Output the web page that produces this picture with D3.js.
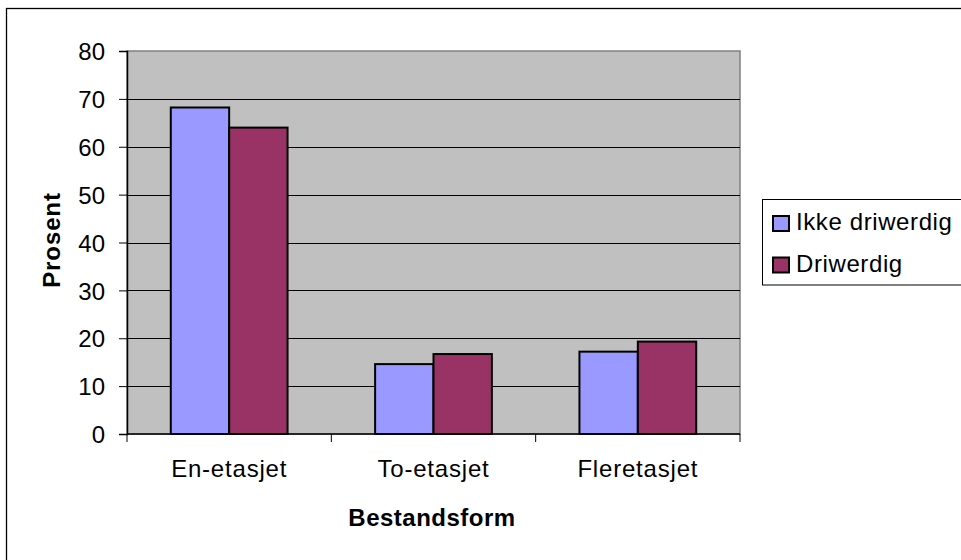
<!DOCTYPE html>
<html>
<head>
<meta charset="utf-8">
<script src="https://cdn.jsdelivr.net/npm/d3@7"></script>
<style>
  html, body { margin: 0; padding: 0; background: #fff; }
  svg { display: block; }
  text { font-family: "Liberation Sans", Arial, sans-serif; fill: #000; }
</style>
</head>
<body>
<svg id="chart" width="961" height="560"></svg>
<script>
// Share of buildings per building type (percent)
const categories = ["En-etasjet", "To-etasjet", "Fleretasjet"];
const seriesNames = ["Ikke driwerdig", "Driwerdig"];
const ikkeDriwerdig = [68.2, 14.6, 17.2];
const driwerdig = [64.0, 16.7, 19.3];
const yTicks = [0, 10, 20, 30, 40, 50, 60, 70, 80];
const seriesColors = ["#9999FF", "#993366"];
const xTitle = "Bestandsform";
const yTitle = "Prosent";

const values = [ikkeDriwerdig, driwerdig];

const svg = d3.select("#chart");
const plot = { left: 127, right: 740, top: 51, bottom: 434 };

// outer chart frame (extends past the right and bottom edges)
svg.append("rect")
  .attr("x", 6.5).attr("y", 8.5)
  .attr("width", 1000).attr("height", 600)
  .attr("fill", "#fff").attr("stroke", "#000").attr("stroke-width", 1.3);

const y = d3.scaleLinear().domain([0, 80]).range([plot.bottom, plot.top]);
const x0 = d3.scaleBand().domain(categories).range([plot.left, plot.right]).paddingInner(0).paddingOuter(0);
const bw = x0.bandwidth();
const gap = bw * 0.75 / 3.5;
const x1 = d3.scaleBand().domain(seriesNames).range([gap, bw - gap]).padding(0);

// plot area background
svg.append("rect")
  .attr("x", plot.left).attr("y", plot.top)
  .attr("width", plot.right - plot.left).attr("height", plot.bottom - plot.top)
  .attr("fill", "#C0C0C0").attr("stroke", "#808080").attr("stroke-width", 1.5);

// horizontal gridlines
svg.append("g").selectAll("line")
  .data(yTicks.filter(d => d > 0 && d < 80))
  .join("line")
  .attr("x1", plot.left).attr("x2", plot.right)
  .attr("y1", d => Math.round(y(d)) + 0.5).attr("y2", d => Math.round(y(d)) + 0.5)
  .attr("stroke", "#000").attr("stroke-width", 1);

// bars
const groups = svg.append("g").selectAll("g")
  .data(categories)
  .join("g")
  .attr("transform", d => `translate(${x0(d)},0)`);

groups.selectAll("rect")
  .data((d, i) => seriesNames.map((s, j) => ({ s, j, v: values[j][i] })))
  .join("rect")
  .attr("x", d => x1(d.s))
  .attr("y", d => y(d.v))
  .attr("width", x1.bandwidth())
  .attr("height", d => y(0) - y(d.v))
  .attr("fill", d => seriesColors[d.j])
  .attr("stroke", "#000").attr("stroke-width", 2);

// y axis
const yAxis = d3.axisLeft(y).tickValues(yTicks).tickSize(8).tickPadding(14).tickFormat(d3.format("d"));
const gy = svg.append("g").attr("transform", `translate(${plot.left},0)`).call(yAxis);
gy.select(".domain").attr("stroke", "#000").attr("stroke-width", 1.5);
gy.selectAll(".tick line").attr("stroke", "#000");
gy.selectAll(".tick text")
  .attr("font-size", 24).attr("font-family", "Liberation Sans, Arial, sans-serif")
  .attr("dy", "0.36em").attr("fill", "#000");

// x axis with ticks at category boundaries
svg.append("line")
  .attr("x1", plot.left).attr("x2", plot.right)
  .attr("y1", plot.bottom).attr("y2", plot.bottom)
  .attr("stroke", "#000").attr("stroke-width", 1.5);
const boundaries = categories.map(c => x0(c)).concat([plot.right]);
svg.append("g").selectAll("line")
  .data(boundaries)
  .join("line")
  .attr("x1", d => d).attr("x2", d => d)
  .attr("y1", plot.bottom).attr("y2", plot.bottom + 8)
  .attr("stroke", "#000").attr("stroke-width", 1);

svg.append("g").selectAll("text")
  .data(categories)
  .join("text")
  .attr("x", d => x0(d) + bw / 2)
  .attr("y", plot.bottom + 43)
  .attr("text-anchor", "middle")
  .attr("font-size", 24)
  .attr("letter-spacing", 0.8)
  .text(d => d);

// axis titles
svg.append("text")
  .attr("x", 432).attr("y", 526)
  .attr("text-anchor", "middle")
  .attr("font-size", 24).attr("font-weight", "bold")
  .attr("letter-spacing", 0.5)
  .text(xTitle);

svg.append("text")
  .attr("transform", "translate(60,240) rotate(-90)")
  .attr("text-anchor", "middle")
  .attr("font-size", 24).attr("font-weight", "bold")
  .attr("letter-spacing", 0.9)
  .text(yTitle);

// legend
const legend = svg.append("g");
legend.append("rect")
  .attr("x", 762.5).attr("y", 199.5)
  .attr("width", 260).attr("height", 85.5)
  .attr("fill", "#fff").attr("stroke", "#000").attr("stroke-width", 1);

const items = legend.selectAll("g.item")
  .data(seriesNames)
  .join("g")
  .attr("class", "item")
  .attr("transform", (d, i) => `translate(0,${i * 41.5})`);

items.append("rect")
  .attr("x", 773).attr("y", 216)
  .attr("width", 16).attr("height", 15)
  .attr("fill", (d, i) => seriesColors[i])
  .attr("stroke", "#000").attr("stroke-width", 2);

items.append("text")
  .attr("x", 796).attr("y", 230)
  .attr("font-size", 24)
  .attr("letter-spacing", 0.6)
  .text(d => d);
</script>
</body>
</html>
